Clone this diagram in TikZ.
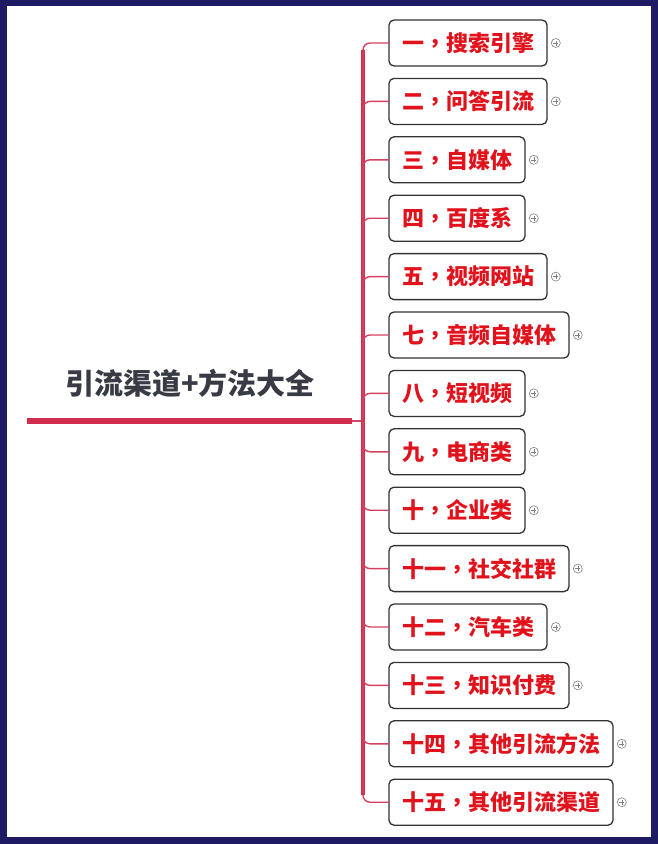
\documentclass[tikz,border=0pt]{standalone}
\usepackage{fontspec}
\newfontfamily\cjk{Noto Sans CJK SC}
\newfontfamily\cjktc{Noto Sans CJK TC}
\newcommand\sepmark{{\cjktc\bfseries ，}}
\usetikzlibrary{positioning}
\definecolor{navy}{RGB}{30,26,100}
\definecolor{rosered}{RGB}{208,44,78}
\definecolor{labelred}{RGB}{226,18,28}
\definecolor{titlegray}{RGB}{56,58,68}

\begin{document}
\begin{tikzpicture}[x=1pt,y=-1pt,node distance=12.4pt]
\tikzstyle{cat}=[draw=black!80,line width=1.3pt,outer sep=0pt,rounded corners=5pt,fill=white,text=labelred,font=\cjk\bfseries\fontsize{22}{22}\selectfont,minimum height=46pt,inner xsep=13pt,anchor=west]
\tikzstyle{expand}=[circle,draw=gray,line width=0.6pt,minimum size=9pt,inner sep=0pt,
  path picture={\draw[gray,line width=0.6pt]
    ([xshift=-2.5pt]path picture bounding box.center) -- ([xshift=2.5pt]path picture bounding box.center)
    ([yshift=-2.5pt]path picture bounding box.center) -- ([yshift=2.5pt]path picture bounding box.center);}]
\tikzstyle{trunk}=[draw=rosered,line width=3.5pt]
\tikzstyle{branch}=[draw=rosered!90,line width=1.4pt,rounded corners=7pt]

\useasboundingbox (0,0) rectangle (658,844);
\fill[navy] (0,0) rectangle (658,844);
\fill[white] (7,6) rectangle (651,837);

% root
\node (root) at (190,383) [text=titlegray,font=\cjk\bfseries\fontsize{29}{29}\selectfont] {引流渠道+方法大全};
\coordinate (rootL) at (27,421);
\coordinate (rootR) at (352,421);
\coordinate (hub) at (363,421);

% categories
\node[cat]   (A) at (389,43)  {一\sepmark 搜索引擎};
\node[cat]   (B) [below=of A.south west, anchor=north west] {二\sepmark 问答引流};
\node[cat]   (C) [below=of B.south west, anchor=north west] {三\sepmark 自媒体};
\node[cat]   (D) [below=of C.south west, anchor=north west] {四\sepmark 百度系};
\node[cat]   (E) [below=of D.south west, anchor=north west] {五\sepmark 视频网站};
\node[cat]   (F) [below=of E.south west, anchor=north west] {七\sepmark 音频自媒体};
\node[cat]   (G) [below=of F.south west, anchor=north west] {八\sepmark 短视频};
\node[cat]   (H) [below=of G.south west, anchor=north west] {九\sepmark 电商类};
\node[cat]   (I) [below=of H.south west, anchor=north west] {十\sepmark 企业类};
\node[cat]   (J) [below=of I.south west, anchor=north west] {十一\sepmark 社交社群};
\node[cat]   (K) [below=of J.south west, anchor=north west] {十二\sepmark 汽车类};
\node[cat]   (L) [below=of K.south west, anchor=north west] {十三\sepmark 知识付费};
\node[cat]   (M) [below=of L.south west, anchor=north west] {十四\sepmark 其他引流方法};
\node[cat]   (N) [below=of M.south west, anchor=north west] {十五\sepmark 其他引流渠道};

\foreach \n in {A,B,C,D,E,F,G,H,I,J,K,L,M,N}
  \node[expand] (x\n) [right=4pt of \n] {};

\draw[rosered,line width=6pt] (rootL) -- (rootR);
\draw[branch] (rootR) -- (hub);
\draw[trunk] ([yshift=-7pt]hub |- A) -- ([yshift=7pt]hub |- N);
\path[branch]
(hub) edge[to path={|- (\tikztotarget)}] (A)
(hub) edge[to path={|- (\tikztotarget)}] (B)
(hub) edge[to path={|- (\tikztotarget)}] (C)
(hub) edge[to path={|- (\tikztotarget)}] (D)
(hub) edge[to path={|- (\tikztotarget)}] (E)
(hub) edge[to path={|- (\tikztotarget)}] (F)
(hub) edge[to path={|- (\tikztotarget)}] (G)
(hub) edge[to path={|- (\tikztotarget)}] (H)
(hub) edge[to path={|- (\tikztotarget)}] (I)
(hub) edge[to path={|- (\tikztotarget)}] (J)
(hub) edge[to path={|- (\tikztotarget)}] (K)
(hub) edge[to path={|- (\tikztotarget)}] (L)
(hub) edge[to path={|- (\tikztotarget)}] (M)
(hub) edge[to path={|- (\tikztotarget)}] (N)
;
\end{tikzpicture}
\end{document}
